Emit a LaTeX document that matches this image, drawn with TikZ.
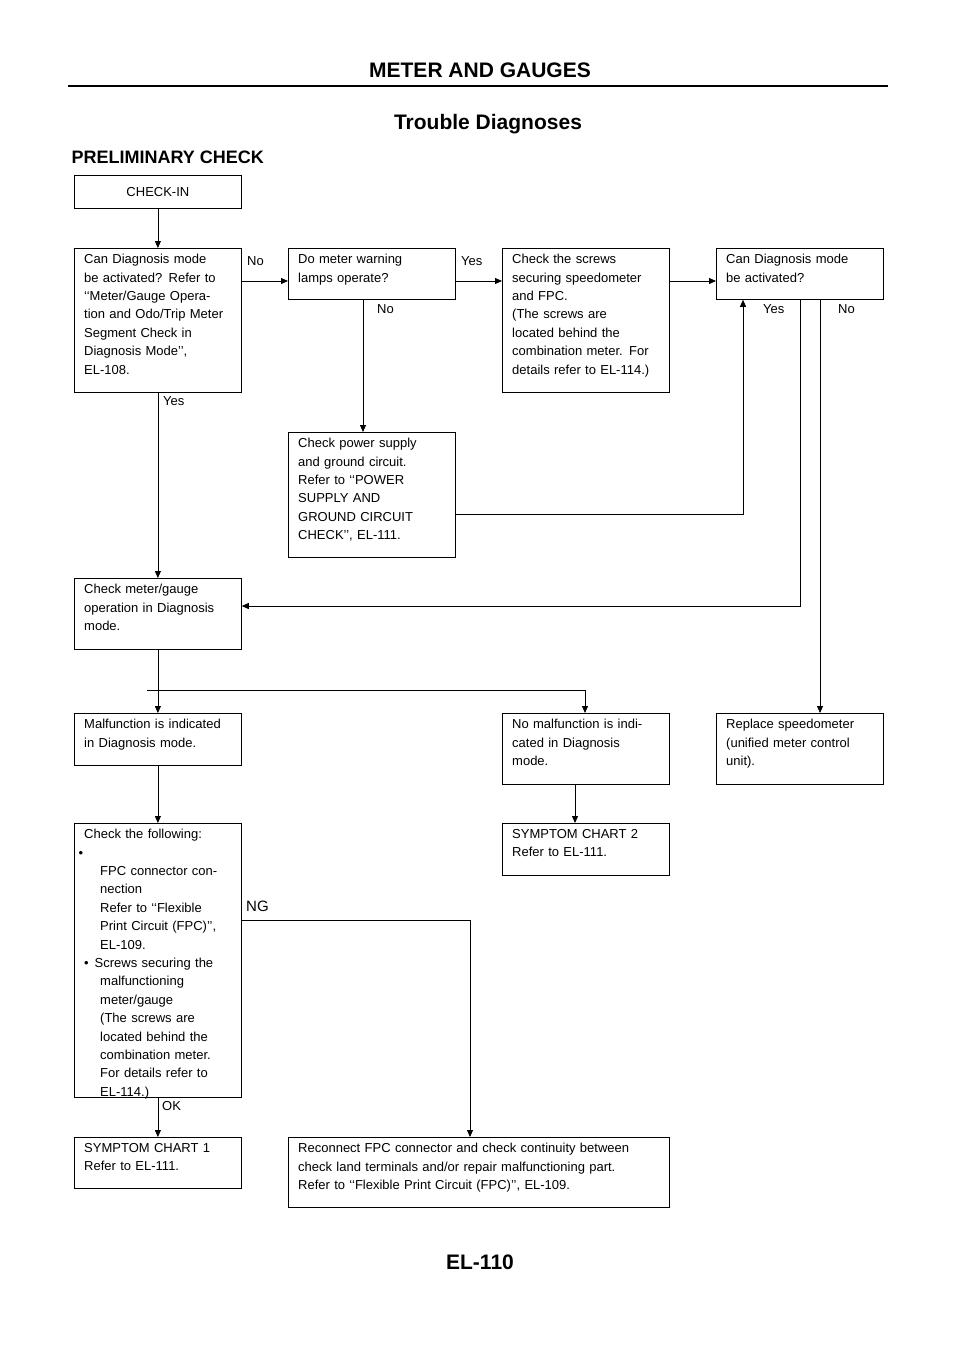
\documentclass[tikz,border=0pt]{standalone}
\usepackage{fontspec}
\setmainfont{Liberation Sans}
\usetikzlibrary{arrows.meta}
\newcommand{\bx}[6]{%
  \node[boxst,minimum width={(#4-#2)*1pt},minimum height={(#5-#3)*1pt},anchor=north west] (#1) at (#2,-#3) {};
  \node[txt,anchor=north west,text width={(#4-#2-18)*1pt}] (#1t) at (#2+10,-#3-6) {#6};}
\begin{document}
\begin{tikzpicture}[x=1pt,y=1pt,
  boxst/.style={draw,line width=0.8pt,inner sep=0pt},
  txt/.style={inner sep=0pt,align=left,font=\fontsize{13}{18.4}\selectfont},
  lbl/.style={inner sep=0pt,font=\fontsize{13}{15}\selectfont},
  ln/.style={line width=0.8pt},
  ar/.style={line width=0.8pt,-{Triangle[length=7pt,width=6pt]}}]
\useasboundingbox (0,0) rectangle (960,-1358);
\node[font=\bfseries\fontsize{21}{24}\selectfont] (hdr) at (480,-70) {METER AND GAUGES};
\draw[line width=2.5pt] (68,-86) -- (888,-86);
\node[font=\bfseries\fontsize{21}{24}\selectfont] (title) at (488,-124) {Trouble Diagnoses};
\node[font=\bfseries\fontsize{18}{22}\selectfont,anchor=west] (prel) at (68,-157) {PRELIMINARY CHECK};
\node[font=\bfseries\fontsize{21}{24}\selectfont] (pg) at (480,-1262) {EL-110};

\node[boxst,minimum width=167pt,minimum height=33pt,anchor=north west] (ci) at (74,-175) {};
\node[txt] (cit) at (ci) {CHECK-IN};
\bx{qa}{74}{248}{241}{392}{Can Diagnosis mode\\be activated? Refer to\\‘‘Meter/Gauge Opera-\\tion and Odo/Trip Meter\\Segment Check in\\Diagnosis Mode’’,\\EL-108.}
\bx{qb}{288}{248}{455}{299}{Do meter warning\\lamps operate?}
\bx{sc}{502}{248}{669}{392}{Check the screws\\securing speedometer\\and FPC.\\(The screws are\\located behind the\\combination meter. For\\details refer to EL-114.)}
\bx{qc}{716}{248}{883}{299}{Can Diagnosis mode\\be activated?}
\bx{pw}{288}{432}{455}{557}{Check power supply\\and ground circuit.\\Refer to ‘‘POWER\\SUPPLY AND\\GROUND CIRCUIT\\CHECK’’, EL-111.}
\bx{cm}{74}{578}{241}{649}{Check meter/gauge\\operation in Diagnosis\\mode.}
\bx{mf}{74}{713}{241}{765}{Malfunction is indicated\\in Diagnosis mode.}
\bx{nm}{502}{713}{669}{784}{No malfunction is indi-\\cated in Diagnosis\\mode.}
\bx{rp}{716}{713}{883}{784}{Replace speedometer\\(unified meter control\\unit).}
\bx{cf}{74}{823}{241}{1097}{Check the following:\\\llap{•\hspace{1pt}}\hspace*{16pt}FPC connector con-\\\hspace*{16pt}nection\\\hspace*{16pt}Refer to ‘‘Flexible\\\hspace*{16pt}Print Circuit (FPC)’’,\\\hspace*{16pt}EL-109.\\•\hspace*{6pt}Screws securing the\\\hspace*{16pt}malfunctioning\\\hspace*{16pt}meter/gauge\\\hspace*{16pt}(The screws are\\\hspace*{16pt}located behind the\\\hspace*{16pt}combination meter.\\\hspace*{16pt}For details refer to\\\hspace*{16pt}EL-114.)}
\bx{s2}{502}{823}{669}{875}{SYMPTOM CHART 2\\Refer to EL-111.}
\bx{s1}{74}{1137}{241}{1188}{SYMPTOM CHART 1\\Refer to EL-111.}
\bx{rc}{288}{1137}{669}{1207}{Reconnect FPC connector and check continuity between\\check land terminals and/or repair malfunctioning part.\\Refer to ‘‘Flexible Print Circuit (FPC)’’, EL-109.}

\coordinate (c1) at (743,-514);
\coordinate (c2) at (800,-606);
\coordinate (c3) at (585,-690);
\coordinate (c4) at (470,-920);
\draw[ar] (ci.south) -- (qa.north);
\draw[ar] (qa.east |- 0,-281) -- (qb.west |- 0,-281);
\draw[ar] (qb.east |- 0,-281) -- (sc.west |- 0,-281);
\draw[ar] (sc.east |- 0,-281) -- (qc.west |- 0,-281);
\draw[ar] (363,-299) -- (pw.north -| 363,0);
\draw[ar] (pw.east |- c1) -- (c1) -- (c1 |- qc.south);
\draw[ar] (c2 |- qc.south) -- (c2) -- (cm.east |- c2);
\draw[ar] (820,-299) -- (rp.north -| 820,0);
\draw[ar] (qa.south) -- (cm.north);
\draw[ar] (cm.south) -- (mf.north);
\draw[ar] (147,-690) -- (c3) -- (c3 |- nm.north);
\draw[ar] (mf.south) -- (cf.north);
\draw[ar] (575,-784) -- (s2.north -| 575,0);
\draw[ar] (cf.east |- c4) -- (c4) -- (c4 |- rc.north);
\draw[ar] (cf.south) -- (s1.north);

\node[lbl,anchor=south west] (l1) at (247,-266) {No};
\node[lbl,anchor=south west] (l2) at (461,-266) {Yes};
\node[lbl,anchor=north west] (l3) at (377,-304) {No};
\node[lbl,anchor=north west] (l4) at (763,-304) {Yes};
\node[lbl,anchor=north west] (l5) at (838,-304) {No};
\node[lbl,anchor=north west] (l6) at (163,-396) {Yes};
\node[lbl,anchor=south west,font=\fontsize{15}{17}\selectfont] (l7) at (246,-912) {NG};
\node[lbl,anchor=north west] (l8) at (162,-1101) {OK};
\end{tikzpicture}
\end{document}
